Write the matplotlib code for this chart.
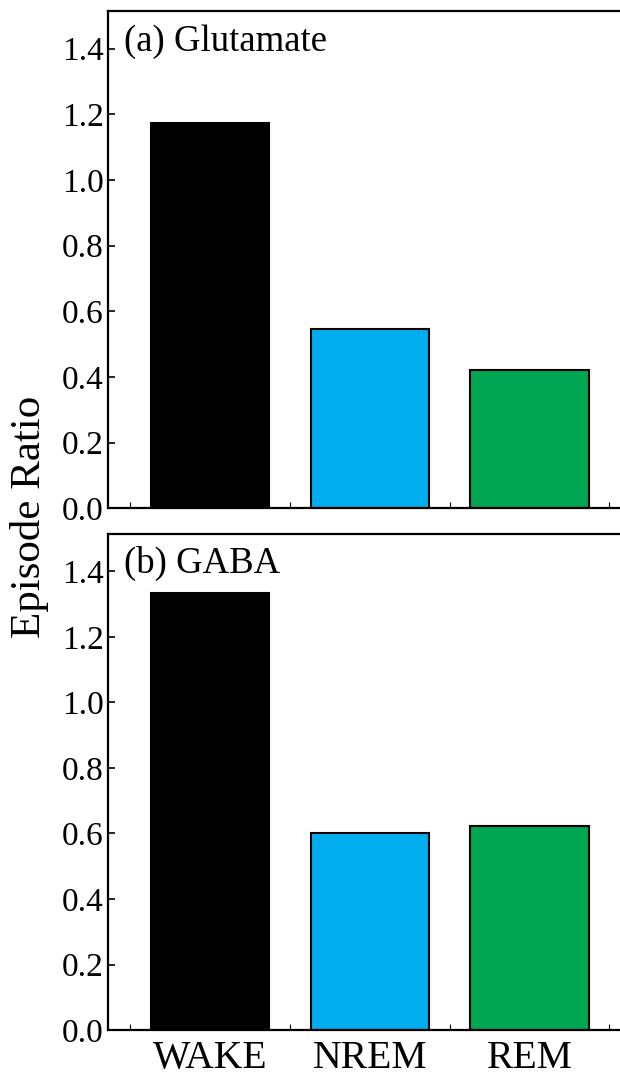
import matplotlib
matplotlib.use("Agg")
import matplotlib.pyplot as plt
from matplotlib.ticker import MultipleLocator

plt.rcParams['font.family'] = ['Liberation Serif', 'DejaVu Serif']

states = ["WAKE", "NREM", "REM"]
colors = ["#000000", "#00AEEF", "#00A651"]
glutamate = [1.175, 0.547, 0.421]
gaba = [1.334, 0.602, 0.624]
panel_titles = ["(a) Glutamate", "(b) GABA"]

fig = plt.figure(figsize=(6.2, 10.77), dpi=100)
ax_a = fig.add_axes([0.1742, 0.528, 0.8258, 0.4618])
ax_b = fig.add_axes([0.1742, 0.0436, 0.8258, 0.4609])

x = list(range(len(states)))
for ax, vals, title in zip([ax_a, ax_b], [glutamate, gaba], panel_titles):
    ax.bar(x, vals, width=0.74, color=colors, edgecolor='black', linewidth=1.5, zorder=2)
    ax.set_xlim(-0.6375, 2.566)
    ax.set_ylim(0, 1.515)
    ax.yaxis.set_major_locator(MultipleLocator(0.2))
    ax.yaxis.set_major_formatter(plt.FormatStrFormatter('%.1f'))
    ax.set_xticks(x)
    ax.xaxis.set_minor_locator(MultipleLocator(0.5))
    ax.tick_params(axis='y', direction='in', length=5, width=1.2, labelsize=24, pad=3)
    ax.tick_params(axis='x', which='both', direction='in', length=4, width=0.8, labelsize=28.5, pad=7)
    ax.spines['right'].set_visible(False)
    for side in ['left', 'top', 'bottom']:
        ax.spines[side].set_linewidth(1.6)
    ax.text(0.031, 0.92, title, transform=ax.transAxes, fontsize=26.5, va='baseline', ha='left')

ax_a.set_xticklabels([])
ax_b.set_xticklabels(states)

fig.text(0.048, 0.52, "Episode Ratio", rotation=90, fontsize=31, ha='center', va='center')

fig.savefig("out.png", dpi=100)
